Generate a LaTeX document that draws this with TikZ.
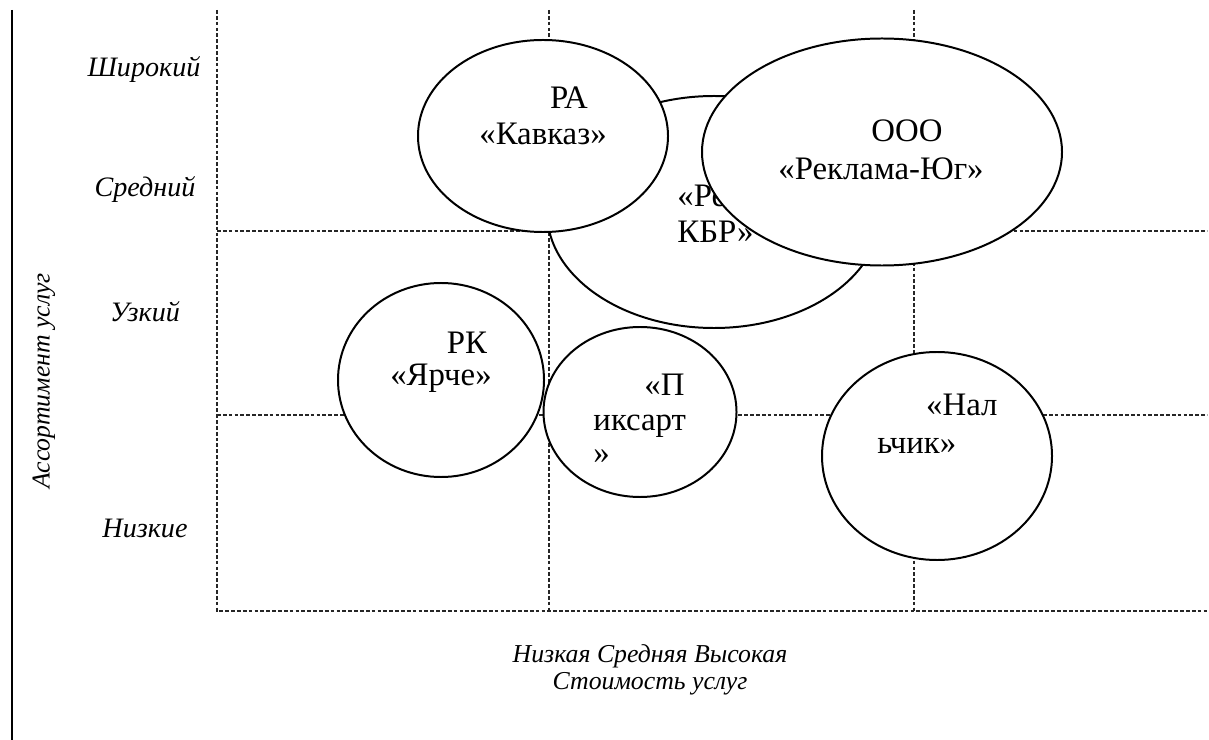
\documentclass[tikz,border=0pt]{standalone}
\usepackage{fontspec}
\setmainfont{Liberation Serif}
\usetikzlibrary{shapes}
\usetikzlibrary{positioning}

\tikzset{
  gridline/.style={draw=black!85,line width=0.45pt,dash pattern=on 1.6pt off 0.9pt},
  firm/.style={ellipse,draw=black,fill=white,line width=0.85pt,inner sep=0pt},
  firmtext/.style={font=\fontsize{14}{16}\selectfont,inner sep=0pt},
  levellabel/.style={font=\fontsize{12}{14}\selectfont\itshape,inner sep=0pt},
  axistitle/.style={font=\fontsize{11}{13}\selectfont\itshape,inner sep=0pt}
}

\begin{document}
\begin{tikzpicture}[x=0.015cm,y=-0.015cm]
    \useasboundingbox (0,0) rectangle (1209,740);
    % left rule
    \draw[line width=0.9pt] (12,10) -- (12,740);
    % grid
    \begin{scope}[every path/.style={gridline}]
      \draw (217,10) -- (217,611) -- (1207,611);
      \draw (549,10) -- (549,611);
      \draw (914,10) -- (914,611);
      \draw (217,231) -- (1207,231);
      \draw (217,415) -- (1207,415);
    \end{scope}
    % vertical axis
    \node[levellabel,anchor=base] (wide) at (144,77) {Широкий};
    \node[levellabel,anchor=base] (mid) at (145,197) {Средний};
    \node[levellabel,anchor=base] (narrow) at (145,322) {Узкий};
    \node[levellabel,anchor=base] (low) at (145,537) {Низкие};
    \node[axistitle,rotate=90] (range) at (44,381) {Ассортимент услуг};
    % horizontal axis
    \node[axistitle,anchor=base] (costs) at (650,662) {Низкая Средняя Высокая};
    \node[axistitle,anchor=base] (cost) at (650,689) {Стоимость услуг};
    % firms
    \node[firm,minimum width=5.01cm,minimum height=3.48cm] (kbr) at (714,212) {};
    \node[firmtext,anchor=base west] (kbrA) at (677,207) {«Реклама};
    \node[firmtext,anchor=base west] (kbrB) at (677,243) {КБР»};
    \node[firm,minimum width=3.75cm,minimum height=2.88cm] (kavkaz) at (543,136) {};
    \node[firmtext,anchor=base] (kavkazA) at (569,109) {РА};
    \node[firmtext,anchor=base] (kavkazB) at (543,145) {«Кавказ»};
    \node[firm,minimum width=5.4cm,minimum height=3.405cm] (yug) at (882,152) {};
    \node[firmtext,anchor=base] (yugA) at (907,142) {ООО};
    \node[firmtext,anchor=base] (yugB) at (881,180) {«Реклама-Юг»};
    \node[firm,minimum width=3.09cm,minimum height=2.91cm] (yarche) at (441,380) {};
    \node[firmtext,anchor=base] (yarcheA) at (467,353) {РК};
    \node[firmtext,anchor=base] (yarcheB) at (441,385) {«Ярче»};
    \node[firm,minimum width=2.895cm,minimum height=2.55cm] (pixart) at (640,412) {};
    \node[firmtext,anchor=base east] (pixartA) at (685,395) {«П};
    \node[firmtext,anchor=base west] (pixartB) at (593,430) {иксарт};
    \node[firmtext,anchor=base west] (pixartC) at (593,463) {»};
    \node[firm,minimum width=3.45cm,minimum height=3.12cm] (nalchik) at (937,456) {};
    \node[firmtext,anchor=base east] (nalchikA) at (998,415) {«Нал};
    \node[firmtext,anchor=base west] (nalchikB) at (877,453) {ьчик»};
\end{tikzpicture}
\end{document}
